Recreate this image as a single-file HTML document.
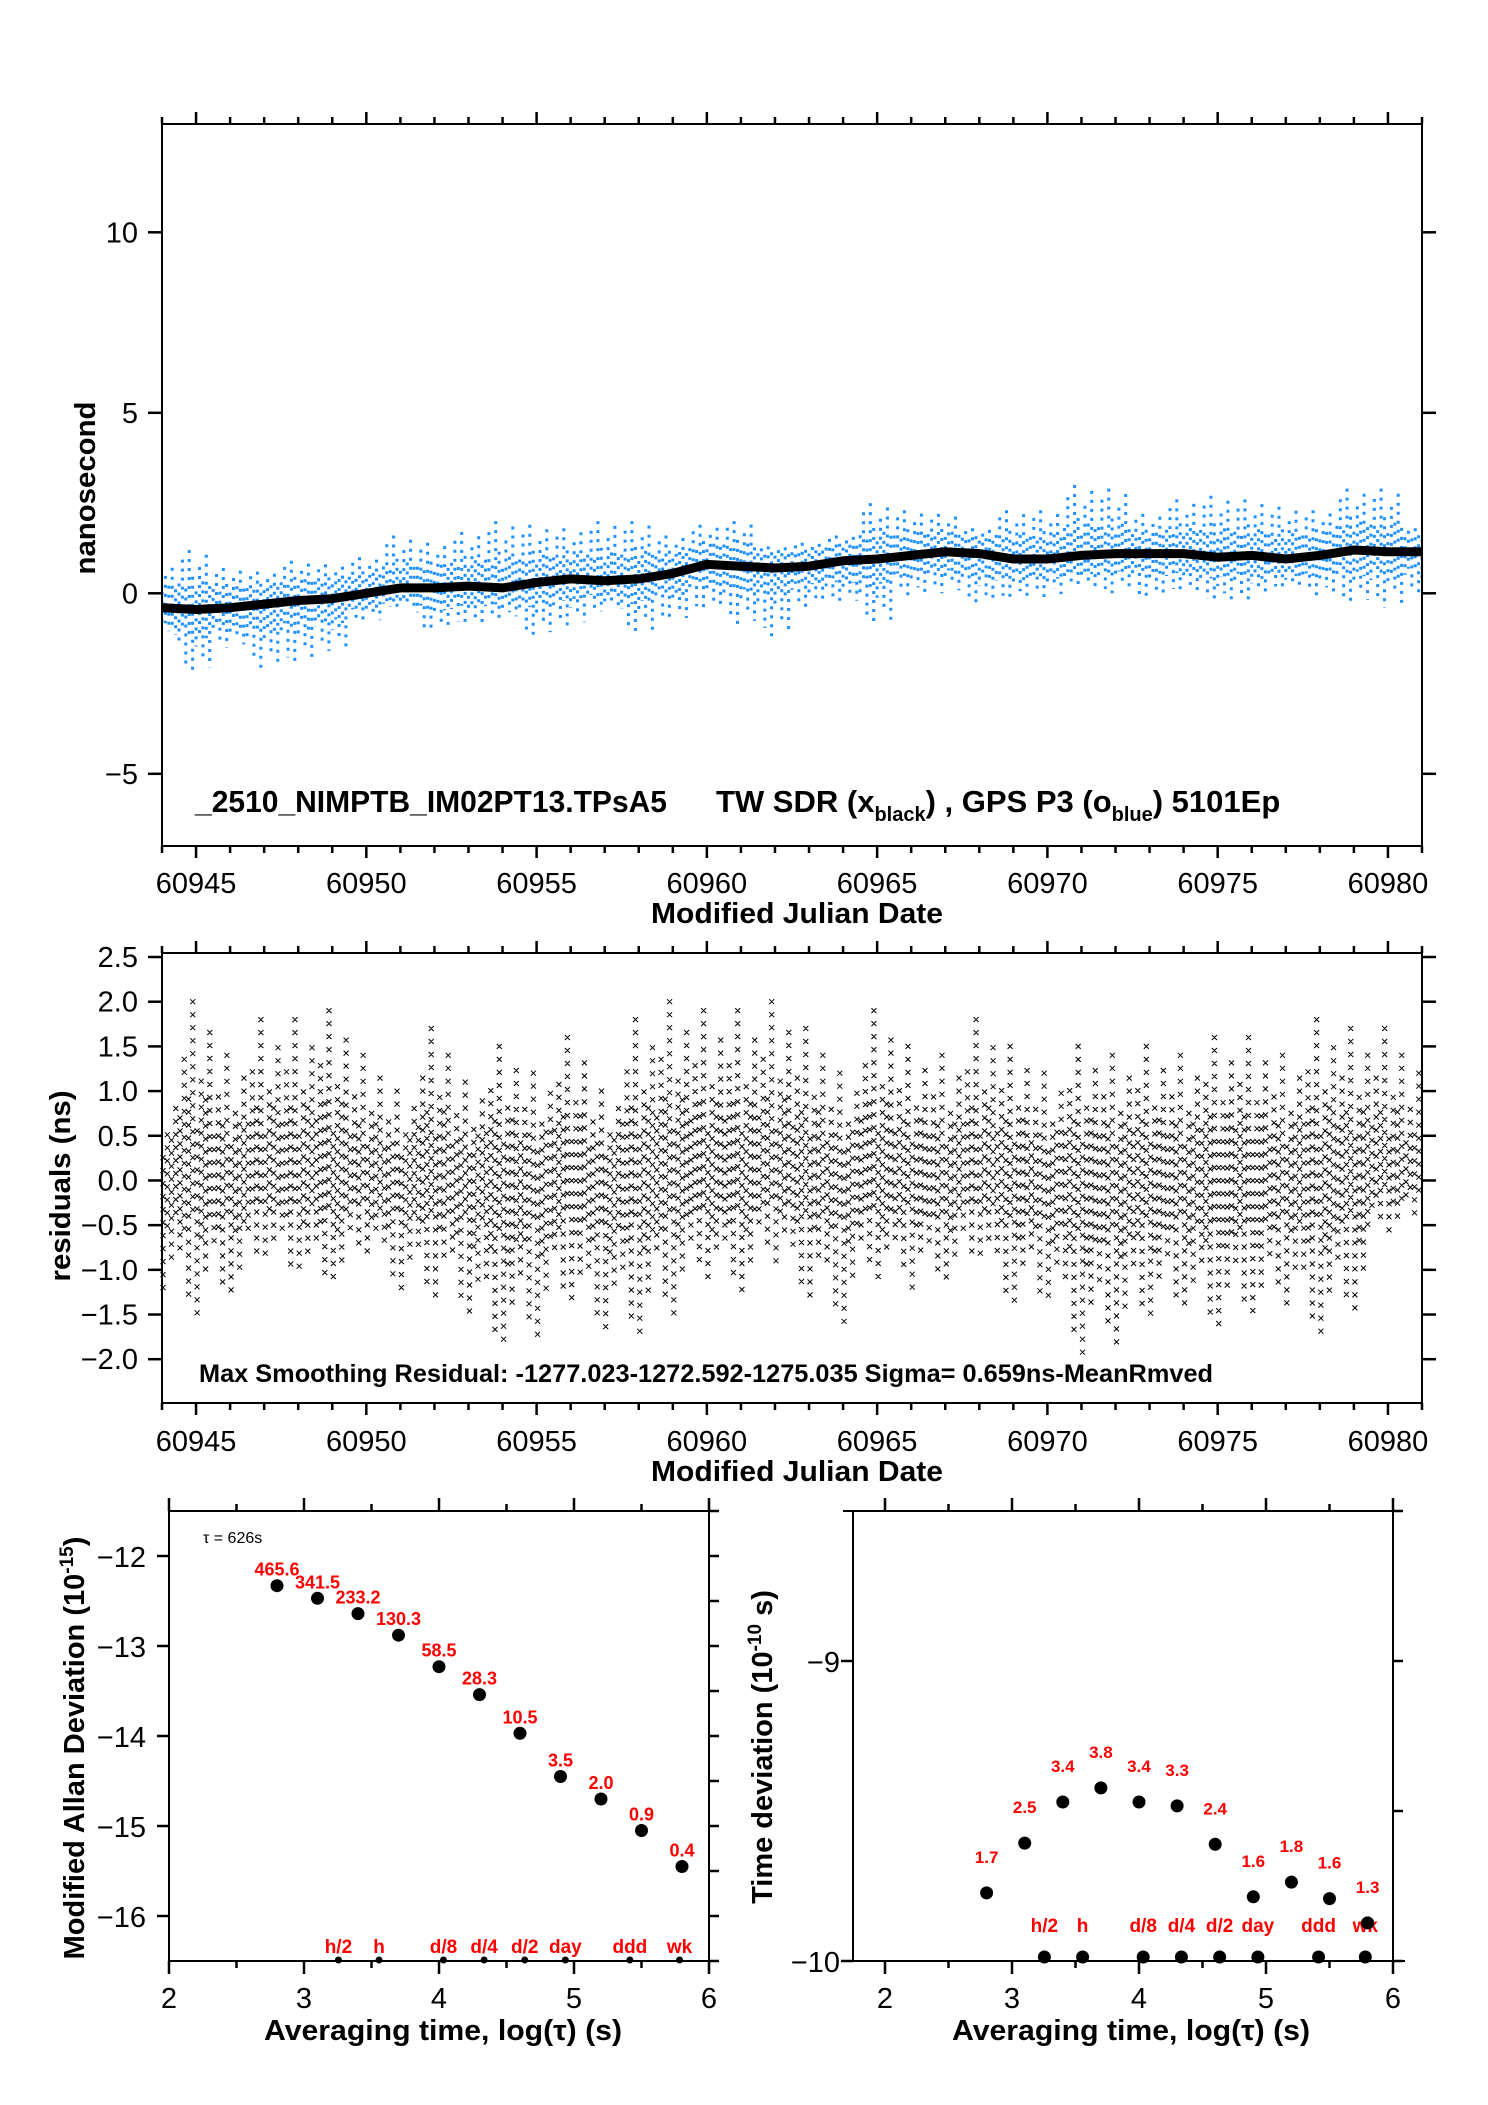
<!DOCTYPE html>
<html><head><meta charset="utf-8"><title>Time transfer comparison</title>
<style>
html,body{margin:0;padding:0;background:#fff;}
svg{display:block;font-family:"Liberation Sans",sans-serif;}
</style></head>
<body>
<svg id="chart" width="1488" height="2105" viewBox="0 0 1488 2105" xmlns="http://www.w3.org/2000/svg">
<rect x="0" y="0" width="1488" height="2105" fill="#fff"/>
</svg>
<script>
// ---------- data ----------
const days = [60944,60945,60946,60947,60948,60949,60950,60951,60952,60953,60954,60955,60956,60957,60958,60959,60960,60961,60962,60963,60964,60965,60966,60967,60968,60969,60970,60971,60972,60973,60974,60975,60976,60977,60978,60979,60980,60981];
const twTrend = [-0.4,-0.45,-0.4,-0.3,-0.2,-0.15,0.0,0.15,0.15,0.2,0.15,0.3,0.4,0.35,0.4,0.55,0.8,0.75,0.7,0.75,0.9,0.95,1.05,1.15,1.1,0.95,0.95,1.05,1.1,1.1,1.1,1.0,1.05,0.95,1.05,1.2,1.15,1.15];
const gpsMax = [0.8,1.2,0.7,0.6,0.9,0.8,1.0,1.6,1.4,1.7,2.0,1.9,1.8,2.0,2.0,1.6,1.9,2.0,1.3,1.4,1.6,2.5,2.3,2.2,1.8,2.3,2.3,3.0,2.9,2.2,2.6,2.7,2.6,2.4,2.3,2.9,2.9,1.8];
const gpsMin = [-1.2,-2.2,-1.5,-2.1,-2.0,-1.6,-0.8,-0.4,-1.1,-0.9,-0.7,-1.2,-0.9,-0.5,-1.2,-0.8,-0.5,-0.9,-1.2,-0.4,-0.3,-0.9,-0.1,0.0,-0.4,-0.2,-0.1,0.1,0.0,-0.2,0.0,-0.3,-0.2,0.1,-0.1,-0.3,-0.4,0.0];
const resMax = [1.0,2.0,1.4,1.8,1.8,1.9,1.4,1.0,1.7,1.1,1.5,1.2,1.6,1.0,1.8,2.0,1.9,1.9,2.0,1.7,1.2,1.9,1.5,1.4,1.8,1.5,1.2,1.5,1.4,1.5,1.4,1.6,1.6,1.4,1.8,1.7,1.7,1.2];
const resMin = [-1.3,-1.5,-1.3,-0.9,-1.1,-1.2,-0.9,-1.3,-1.3,-1.5,-1.9,-1.8,-1.4,-1.7,-1.7,-1.5,-1.1,-1.3,-0.9,-1.3,-1.6,-1.1,-1.2,-1.2,-0.9,-1.4,-1.4,-2.0,-1.9,-1.6,-1.5,-1.7,-1.6,-1.4,-1.7,-1.5,-0.6,-0.5];
const tauLog = [2.8,3.1,3.4,3.7,4.0,4.3,4.6,4.9,5.2,5.5,5.8];
const madevLog = [-12.33,-12.47,-12.64,-12.88,-13.23,-13.54,-13.97,-14.45,-14.70,-15.05,-15.45];
const madevLabels = ["465.6","341.5","233.2","130.3","58.5","28.3","10.5","3.5","2.0","0.9","0.4"];
const tdevLog = [-9.773,-9.607,-9.47,-9.423,-9.47,-9.483,-9.611,-9.786,-9.737,-9.792,-9.873];
const tdevLabels = ["1.7","2.5","3.4","3.8","3.4","3.3","2.4","1.6","1.8","1.6","1.3"];
const markNames = ["h/2","h","d/8","d/4","d/2","day","ddd","wk"];
const markLog = [3.255,3.556,4.033,4.334,4.635,4.936,5.414,5.782];
const mjdTicks = [60945,60950,60955,60960,60965,60970,60975,60980];
const nsTicks = [-5,0,5,10];
const resTicks = [-2.0,-1.5,-1.0,-0.5,0.0,0.5,1.0,1.5,2.0,2.5];
const adevTicks = [-16,-15,-14,-13,-12];
const tdevTicks = [-10,-9];
const logTicks = [2,3,4,5,6];

// ---------- helpers ----------
const svg = document.getElementById('chart');
const NS = 'http://www.w3.org/2000/svg';
function mk(tag, attrs, name, parent) {
  const el = document.createElementNS(NS, tag);
  for (const k in attrs) el.setAttribute(k, attrs[k]);
  
  
  (parent || svg).appendChild(el);
  return el;
}
function txt(s, attrs, name, parent) {
  const el = mk('text', attrs, name, parent);
  el.textContent = s;
  return el;
}
const fmtRes = v => (v < 0 ? '\u2212' + Math.abs(v).toFixed(1) : v.toFixed(1));
const fmtInt = v => (v < 0 ? '\u2212' + Math.abs(v) : String(v));

const P1 = {l:162, r:1422, t:124, b:846, x0:60944, x1:60981, y0:-7, y1:13};
const P2 = {l:162, r:1422, t:953, b:1403, x0:60944, x1:60981, y0:-2.49, y1:2.545};
const P3 = {l:169, r:709, t:1511, b:1961, x0:2, x1:6, y0:-16.5, y1:-11.5};
const P4 = {l:853, r:1393, t:1511, b:1961, x0:1.748, x1:6, y0:-10, y1:-8.5};
function sx(P, v){ return P.l + (v - P.x0) / (P.x1 - P.x0) * (P.r - P.l); }
function sy(P, v){ return P.b - (v - P.y0) / (P.y1 - P.y0) * (P.b - P.t); }
function interp(arr, d){ const i = Math.max(0, Math.min(arr.length-2, Math.floor(d - days[0]))); const f = (d - days[i]); return arr[i] + (arr[i+1]-arr[i]) * Math.max(0, Math.min(1, f)); }

function frame(P, name){
  mk('rect', {x:P.l, y:P.t, width:P.r-P.l, height:P.b-P.t, fill:'none', stroke:'#000', 'stroke-width':2}, name);
}
function tick(x1,y1,x2,y2,name,w){
  mk('line', {x1:x1,y1:y1,x2:x2,y2:y2,stroke:'#000','stroke-width':w||2.5}, name);
}

// ---------- panel 1 ----------
const g1 = mk('g', {}, 'time-series-panel');
frame(P1, 'time-series-frame');
for (let d = P1.x0; d <= P1.x1; d++) {
  const major = mjdTicks.indexOf(d) >= 0;
  const x = sx(P1, d);
  tick(x, P1.b, x, P1.b + (major ? 12 : 7), 'x-tick-bottom', 2.5);
  tick(x, P1.t, x, P1.t - (major ? 12 : 7), 'x-tick-top', 2.5);
}
mjdTicks.forEach(v => txt(String(v), {x:sx(P1,v), y:893, 'font-size':29, 'text-anchor':'middle'}, 'x-tick-label', g1));
nsTicks.forEach(v => {
  const y = sy(P1, v);
  tick(P1.l - 14, y, P1.l, y, 'y-tick-left');
  tick(P1.r, y, P1.r + 14, y, 'y-tick-right');
  txt(fmtInt(v), {x:138, y:y + 10, 'font-size':29, 'text-anchor':'end'}, 'y-tick-label', g1);
});
const shapeHi = [0.3,0.8,0.2,1.0,0.45,0.15,0.65,0.35,0.9,0.25];
const shapeLo = [0.4,0.2,0.85,0.3,1.0,0.5,0.25,0.7,0.35,0.9];
const clip1 = mk('clipPath', {id:'clip1'}, 'clip-top');
mk('rect', {x:P1.l, y:P1.t, width:P1.r-P1.l, height:P1.b-P1.t}, 'clip-rect', clip1);
let blueD = '';
for (let i = 0; i < days.length; i++) {
  for (let k = 0; k < 10; k++) {
    const d = days[i] - 0.5 + k / 10;
    if (d < P1.x0 || d > P1.x1) continue;
    const t = interp(twTrend, d);
    const hi = t + 0.3 + (gpsMax[i] - t - 0.3) * shapeHi[k];
    const lo = t - 0.3 + (gpsMin[i] - t + 0.3) * shapeLo[k];
    const x = sx(P1, d).toFixed(1);
    blueD += 'M' + x + ' ' + sy(P1, hi).toFixed(1) + 'V' + sy(P1, lo).toFixed(1);
  }
}
mk('path', {d:blueD, stroke:'#1e90ff', 'stroke-width':3, 'stroke-dasharray':'3 6', fill:'none', 'clip-path':'url(#clip1)'}, 'gps-p3-series', g1);
const tw = days.map((d, i) => sx(P1, d).toFixed(1) + ',' + sy(P1, twTrend[i]).toFixed(1)).join(' ');
mk('polyline', {points:tw, stroke:'#000', 'stroke-width':9, fill:'none', 'stroke-linejoin':'round', 'clip-path':'url(#clip1)'}, 'tw-sdr-series', g1);
const lab = txt('', {x:195, y:812, 'font-size':31, 'font-weight':'bold'}, 'series-label', g1);
lab.innerHTML = '<tspan>_2510_NIMPTB_IM02PT13.TPsA5</tspan>';
const lab2 = txt('', {x:716, y:812, 'font-size':31, 'font-weight':'bold'}, 'legend-label', g1);
lab2.innerHTML = 'TW SDR (x<tspan font-size="20" dy="9">black</tspan><tspan dy="-9">) ,  GPS P3 (o</tspan><tspan font-size="20" dy="9">blue</tspan><tspan dy="-9">)  5101Ep</tspan>';
lab.setAttribute('textLength', 472);
lab.setAttribute('lengthAdjust', 'spacingAndGlyphs');
txt('nanosecond', {x:0, y:0, 'font-size':29, 'font-weight':'bold', 'text-anchor':'middle', transform:'translate(95,488) rotate(-90)', textLength:173, lengthAdjust:'spacingAndGlyphs'}, 'y-axis-title', g1);
txt('Modified Julian Date', {x:797, y:923, 'font-size':29, 'font-weight':'bold', 'text-anchor':'middle', textLength:292, lengthAdjust:'spacingAndGlyphs'}, 'x-axis-title', g1);

// ---------- panel 2 ----------
const g2 = mk('g', {}, 'residuals-panel');
frame(P2, 'residuals-frame');
for (let d = P2.x0; d <= P2.x1; d++) {
  const major = mjdTicks.indexOf(d) >= 0;
  const x = sx(P2, d);
  tick(x, P2.b, x, P2.b + (major ? 12 : 7), 'x-tick-bottom', 2.5);
  tick(x, P2.t, x, P2.t - (major ? 12 : 7), 'x-tick-top', 2.5);
}
mjdTicks.forEach(v => txt(String(v), {x:sx(P2,v), y:1451, 'font-size':29, 'text-anchor':'middle'}, 'x-tick-label', g2));
resTicks.forEach(v => {
  const y = sy(P2, v);
  tick(P2.l - 14, y, P2.l, y, 'y-tick-left');
  tick(P2.r, y, P2.r + 14, y, 'y-tick-right');
  txt(fmtRes(v), {x:138, y:y + 10, 'font-size':29, 'text-anchor':'end'}, 'y-tick-label', g2);
});
let xD = '';
const resHi = [0.35,0.7,0.5,1.0,0.3,0.6,0.45,0.85];
const resLo = [0.6,0.4,0.9,0.3,1.0,0.5,0.75,0.35];
for (let i = 0; i < days.length; i++) {
  for (let k = 0; k < 8; k++) {
    const d = days[i] - 0.5 + k / 8 + 0.03;
    if (d < P2.x0 || d > P2.x1) continue;
    const x = sx(P2, d);
    const hi = resMax[i] * resHi[k], lo = resMin[i] * resLo[k];
    const yh = sy(P2, hi), yl = sy(P2, lo);
    const off = (k % 3) * 4;
    for (let y = yh + off; y <= yl; y += 13) {
      xD += 'M' + (x-2.5).toFixed(1) + ' ' + (y-2.5).toFixed(1) + 'l5 5m-5 0l5 -5';
    }
  }
}
mk('path', {d:xD, stroke:'#000', 'stroke-width':1, fill:'none'}, 'residual-points', g2);
txt('Max Smoothing Residual: -1277.023-1272.592-1275.035  Sigma= 0.659ns-MeanRmved', {x:199, y:1382, 'font-size':25, 'font-weight':'bold', textLength:1014, lengthAdjust:'spacingAndGlyphs'}, 'residual-summary-label', g2);
txt('residuals (ns)', {x:0, y:0, 'font-size':29, 'font-weight':'bold', 'text-anchor':'middle', transform:'translate(70,1186) rotate(-90)', textLength:191, lengthAdjust:'spacingAndGlyphs'}, 'y-axis-title', g2);
txt('Modified Julian Date', {x:797, y:1481, 'font-size':29, 'font-weight':'bold', 'text-anchor':'middle', textLength:292, lengthAdjust:'spacingAndGlyphs'}, 'x-axis-title', g2);

// ---------- panel 3: MDEV ----------
const g3 = mk('g', {}, 'allan-deviation-panel');
mk('line', {x1:P3.l, y1:P3.t, x2:P3.r+4, y2:P3.t, stroke:'#000','stroke-width':2}, 'top-axis', g3);
mk('line', {x1:P3.l, y1:P3.b, x2:P3.r+4, y2:P3.b, stroke:'#000','stroke-width':2}, 'bottom-axis', g3);
mk('line', {x1:P3.l, y1:P3.t, x2:P3.l, y2:P3.b, stroke:'#000','stroke-width':2}, 'left-axis', g3);
mk('line', {x1:P3.r, y1:P3.t, x2:P3.r, y2:P3.b, stroke:'#000','stroke-width':2}, 'right-axis', g3);
for (let v = 2; v <= 6.001; v += 0.5) {
  const x = sx(P3, v), major = Math.abs(v - Math.round(v)) < 1e-6;
  tick(x, P3.b, x, P3.b + (major ? 13 : 7), 'x-tick-bottom');
  tick(x, P3.t, x, P3.t - (major ? 13 : 7), 'x-tick-top');
}
for (let v = -16.5; v <= -11.5; v += 0.5) {
  const y = sy(P3, v);
  tick(P3.r, y, P3.r + 10, y, 'y-tick-right');
}
adevTicks.forEach(v => { const y = sy(P3, v); tick(P3.l - 12, y, P3.l, y, 'y-tick-left'); txt(fmtInt(v), {x:146, y:y + 11, 'font-size':29, 'text-anchor':'end'}, 'y-tick-label', g3); });
logTicks.forEach(v => txt(String(v), {x:sx(P3, v), y:2008, 'font-size':29, 'text-anchor':'middle'}, 'x-tick-label', g3));
txt('\u03c4 = 626s', {x:203, y:1543, 'font-size':16}, 'tau0-label', g3);
tauLog.forEach((v, i) => {
  mk('circle', {cx:sx(P3, v), cy:sy(P3, madevLog[i]), r:6.5, fill:'#000'}, 'mdev-point', g3);
  txt(madevLabels[i], {x:sx(P3, v), y:sy(P3, madevLog[i]) - 10, 'font-size':18, 'font-weight':'bold', fill:'#ff0000', 'text-anchor':'middle'}, 'mdev-value-label', g3);
});
markLog.forEach((v, i) => {
  mk('circle', {cx:sx(P3, v), cy:P3.b - 1, r:3.5, fill:'#000'}, 'timescale-marker', g3);
  txt(markNames[i], {x:sx(P3, v), y:1953, 'font-size':19, 'font-weight':'bold', fill:'#ff0000', 'text-anchor':'middle'}, 'timescale-label', g3);
});
const t3 = txt('', {x:0, y:0, 'font-size':29, 'font-weight':'bold', 'text-anchor':'middle', transform:'translate(84,1748) rotate(-90)'}, 'y-axis-title', g3);
t3.innerHTML = 'Modified Allan Deviation (10<tspan font-size="19" dy="-11">-15</tspan><tspan dy="11">)</tspan>';
txt('Averaging time, log(\u03c4) (s)', {x:443, y:2040, 'font-size':29, 'font-weight':'bold', 'text-anchor':'middle', textLength:358, lengthAdjust:'spacingAndGlyphs'}, 'x-axis-title', g3);

// ---------- panel 4: TDEV ----------
const g4 = mk('g', {}, 'time-deviation-panel');
mk('line', {x1:P4.l - 10, y1:P4.t, x2:P4.r + 4, y2:P4.t, stroke:'#000','stroke-width':2}, 'top-axis', g4);
mk('line', {x1:P4.l, y1:P4.b, x2:P4.r + 12, y2:P4.b, stroke:'#000','stroke-width':2}, 'bottom-axis', g4);
mk('line', {x1:P4.l, y1:P4.t, x2:P4.l, y2:P4.b, stroke:'#000','stroke-width':2}, 'left-axis', g4);
mk('line', {x1:P4.r, y1:P4.t, x2:P4.r, y2:P4.b, stroke:'#000','stroke-width':2}, 'right-axis', g4);
for (let v = 2; v <= 6.001; v += 0.5) {
  const x = sx(P4, v), major = Math.abs(v - Math.round(v)) < 1e-6;
  tick(x, P4.b, x, P4.b + (major ? 13 : 7), 'x-tick-bottom');
  tick(x, P4.t, x, P4.t - (major ? 13 : 7), 'x-tick-top');
}
for (let v = -10; v <= -8.5; v += 0.5) { const y = sy(P4, v); tick(P4.r, y, P4.r + 10, y, 'y-tick-right'); }
tdevTicks.forEach(v => { const y = sy(P4, v); tick(P4.l - 12, y, P4.l, y, 'y-tick-left'); txt(fmtInt(v), {x:840, y:y + 11, 'font-size':29, 'text-anchor':'end'}, 'y-tick-label', g4); });
logTicks.forEach(v => txt(String(v), {x:sx(P4, v), y:2008, 'font-size':29, 'text-anchor':'middle'}, 'x-tick-label', g4));
markLog.forEach((v, i) => {
  mk('circle', {cx:sx(P4, v), cy:P4.b - 4, r:6.5, fill:'#000'}, 'timescale-marker', g4);
  txt(markNames[i], {x:sx(P4, v), y:1932, 'font-size':19, 'font-weight':'bold', fill:'#ff0000', 'text-anchor':'middle'}, 'timescale-label', g4);
});
tauLog.forEach((v, i) => {
  mk('circle', {cx:sx(P4, v), cy:sy(P4, tdevLog[i]), r:6.5, fill:'#000'}, 'tdev-point', g4);
  txt(tdevLabels[i], {x:sx(P4, v), y:sy(P4, tdevLog[i]) - 30, 'font-size':17, 'font-weight':'bold', fill:'#ff0000', 'text-anchor':'middle'}, 'tdev-value-label', g4);
});
const t4 = txt('', {x:0, y:0, 'font-size':29, 'font-weight':'bold', 'text-anchor':'middle', transform:'translate(772,1747) rotate(-90)'}, 'y-axis-title', g4);
t4.innerHTML = 'Time deviation (10<tspan font-size="19" dy="-11">-10</tspan><tspan dy="11"> s)</tspan>';
txt('Averaging time, log(\u03c4) (s)', {x:1131, y:2040, 'font-size':29, 'font-weight':'bold', 'text-anchor':'middle', textLength:358, lengthAdjust:'spacingAndGlyphs'}, 'x-axis-title', g4);
</script>
</body></html>
